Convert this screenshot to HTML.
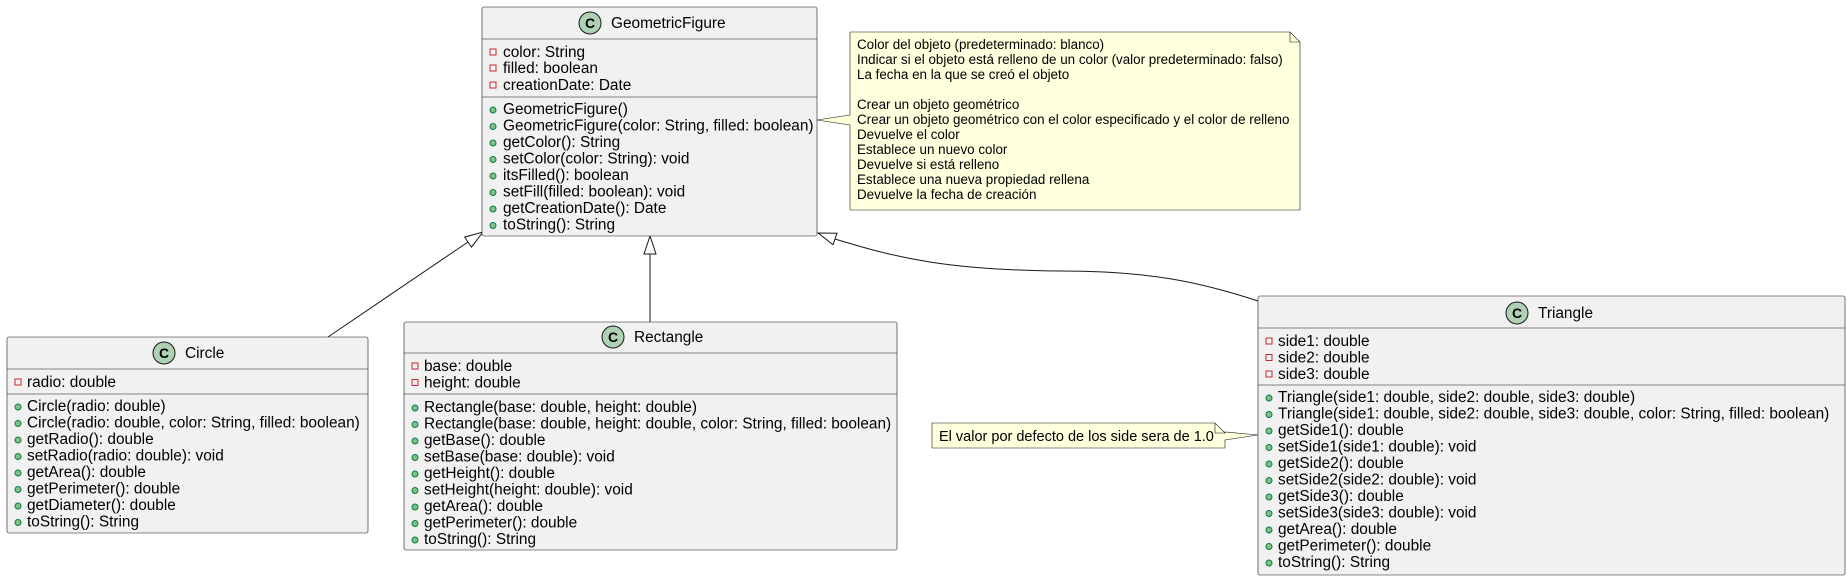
<!DOCTYPE html>
<html><head><meta charset="utf-8"><style>
html,body{margin:0;padding:0;background:#fff;}
svg{display:block;}
text{font-family:"Liberation Sans",sans-serif;fill:#000;}
.t{font-size:15.4px;}
.n{font-size:13.4px;}
.box{fill:#F1F1F1;stroke:#181818;stroke-width:0.6;}
.sep{stroke:#181818;stroke-width:0.6;}
.pr{fill:none;stroke:#C82930;stroke-width:1;}
.pu{fill:#84BE84;stroke:#038048;stroke-width:1;}
.ic{fill:#ADD1B2;stroke:#181818;stroke-width:1;}
.ct{font-size:14px;font-weight:bold;}
</style></head><body>
<svg width="1847" height="581" viewBox="0 0 1847 581" xmlns="http://www.w3.org/2000/svg">
<g stroke="#181818" stroke-width="1" fill="none">
<path d="M328,337 L468,242"/>
<path d="M650,322 L650,254"/>
<path d="M1258,301 C1200,282 1150,271 1060,271 C950,270 900,259 835,239"/>
</g>
<g stroke="#181818" stroke-width="1" fill="#fff">
<polygon points="483,232 471.5,247.1 464.7,237.1"/>
<polygon points="650,236 644,254 656,254"/>
<polygon points="818,233 833,244.7 837,233.3"/>
</g>

<rect class="box" x="482" y="7" width="335" height="229" rx="2"/>
<line class="sep" x1="482" y1="39" x2="817" y2="39"/>
<line class="sep" x1="482" y1="97" x2="817" y2="97"/>
<circle class="ic" cx="590" cy="23" r="11"/>
<text class="ct" x="590" y="28" text-anchor="middle">C</text>
<text class="t" x="611" y="28">GeometricFigure</text>
<g class="t">
<rect class="pr" x="490" y="49" width="6" height="6"/><text x="503" y="57">color: String</text>
<rect class="pr" x="490" y="65" width="6" height="6"/><text x="503" y="73">filled: boolean</text>
<rect class="pr" x="490" y="82" width="6" height="6"/><text x="503" y="90">creationDate: Date</text>
<circle class="pu" cx="493" cy="110" r="3"/><text x="503" y="114">GeometricFigure()</text>
<circle class="pu" cx="493" cy="126.5" r="3"/><text x="503" y="130.5">GeometricFigure(color: String, filled: boolean)</text>
<circle class="pu" cx="493" cy="143" r="3"/><text x="503" y="147">getColor(): String</text>
<circle class="pu" cx="493" cy="159.5" r="3"/><text x="503" y="163.5">setColor(color: String): void</text>
<circle class="pu" cx="493" cy="176" r="3"/><text x="503" y="180">itsFilled(): boolean</text>
<circle class="pu" cx="493" cy="192.5" r="3"/><text x="503" y="196.5">setFill(filled: boolean): void</text>
<circle class="pu" cx="493" cy="209" r="3"/><text x="503" y="213">getCreationDate(): Date</text>
<circle class="pu" cx="493" cy="225.5" r="3"/><text x="503" y="229.5">toString(): String</text>
</g>

<path d="M850,32 L1290,32 L1300,42 L1300,210 L850,210 L850,125 L817,120 L850,115 Z" fill="#FEFFDD" stroke="#181818" stroke-width="0.6"/>
<path d="M1290,32 L1290,42 L1300,42" fill="none" stroke="#181818" stroke-width="0.6"/>
<g class="n">
<text x="857" y="49">Color del objeto (predeterminado: blanco)</text>
<text x="857" y="64">Indicar si el objeto está relleno de un color (valor predeterminado: falso)</text>
<text x="857" y="79">La fecha en la que se creó el objeto</text>
<text x="857" y="109">Crear un objeto geométrico</text>
<text x="857" y="124">Crear un objeto geométrico con el color especificado y el color de relleno</text>
<text x="857" y="139">Devuelve el color</text>
<text x="857" y="154">Establece un nuevo color</text>
<text x="857" y="169">Devuelve si está relleno</text>
<text x="857" y="184">Establece una nueva propiedad rellena</text>
<text x="857" y="199">Devuelve la fecha de creación</text>
</g>

<rect class="box" x="7" y="337" width="361" height="196" rx="2"/>
<line class="sep" x1="7" y1="369" x2="368" y2="369"/>
<line class="sep" x1="7" y1="394" x2="368" y2="394"/>
<circle class="ic" cx="164" cy="353" r="11"/>
<text class="ct" x="164" y="358" text-anchor="middle">C</text>
<text class="t" x="185" y="358">Circle</text>
<g class="t">
<rect class="pr" x="15" y="379" width="6" height="6"/><text x="27" y="387">radio: double</text>
<circle class="pu" cx="18" cy="407" r="3"/><text x="27" y="411">Circle(radio: double)</text>
<circle class="pu" cx="18" cy="423.5" r="3"/><text x="27" y="427.5">Circle(radio: double, color: String, filled: boolean)</text>
<circle class="pu" cx="18" cy="440" r="3"/><text x="27" y="444">getRadio(): double</text>
<circle class="pu" cx="18" cy="456.5" r="3"/><text x="27" y="460.5">setRadio(radio: double): void</text>
<circle class="pu" cx="18" cy="473" r="3"/><text x="27" y="477">getArea(): double</text>
<circle class="pu" cx="18" cy="489.5" r="3"/><text x="27" y="493.5">getPerimeter(): double</text>
<circle class="pu" cx="18" cy="506" r="3"/><text x="27" y="510">getDiameter(): double</text>
<circle class="pu" cx="18" cy="522.5" r="3"/><text x="27" y="526.5">toString(): String</text>
</g>

<rect class="box" x="404" y="322" width="493" height="228" rx="2"/>
<line class="sep" x1="404" y1="353" x2="897" y2="353"/>
<line class="sep" x1="404" y1="394" x2="897" y2="394"/>
<circle class="ic" cx="613" cy="337" r="11"/>
<text class="ct" x="613" y="342" text-anchor="middle">C</text>
<text class="t" x="634" y="342">Rectangle</text>
<g class="t">
<rect class="pr" x="412" y="363" width="6" height="6"/><text x="424" y="371">base: double</text>
<rect class="pr" x="412" y="379.5" width="6" height="6"/><text x="424" y="387.5">height: double</text>
<circle class="pu" cx="415" cy="408" r="3"/><text x="424" y="412">Rectangle(base: double, height: double)</text>
<circle class="pu" cx="415" cy="424.5" r="3"/><text x="424" y="428.5">Rectangle(base: double, height: double, color: String, filled: boolean)</text>
<circle class="pu" cx="415" cy="441" r="3"/><text x="424" y="445">getBase(): double</text>
<circle class="pu" cx="415" cy="457.5" r="3"/><text x="424" y="461.5">setBase(base: double): void</text>
<circle class="pu" cx="415" cy="474" r="3"/><text x="424" y="478">getHeight(): double</text>
<circle class="pu" cx="415" cy="490.5" r="3"/><text x="424" y="494.5">setHeight(height: double): void</text>
<circle class="pu" cx="415" cy="507" r="3"/><text x="424" y="511">getArea(): double</text>
<circle class="pu" cx="415" cy="523.5" r="3"/><text x="424" y="527.5">getPerimeter(): double</text>
<circle class="pu" cx="415" cy="540" r="3"/><text x="424" y="544">toString(): String</text>
</g>

<rect class="box" x="1258" y="296" width="587" height="279" rx="2"/>
<line class="sep" x1="1258" y1="328" x2="1845" y2="328"/>
<line class="sep" x1="1258" y1="385" x2="1845" y2="385"/>
<circle class="ic" cx="1517" cy="313" r="11"/>
<text class="ct" x="1517" y="318" text-anchor="middle">C</text>
<text class="t" x="1538" y="318">Triangle</text>
<g class="t">
<rect class="pr" x="1266" y="338" width="6" height="6"/><text x="1278" y="346">side1: double</text>
<rect class="pr" x="1266" y="354.5" width="6" height="6"/><text x="1278" y="362.5">side2: double</text>
<rect class="pr" x="1266" y="371" width="6" height="6"/><text x="1278" y="379">side3: double</text>
<circle class="pu" cx="1269" cy="398" r="3"/><text x="1278" y="402">Triangle(side1: double, side2: double, side3: double)</text>
<circle class="pu" cx="1269" cy="414.5" r="3"/><text x="1278" y="418.5">Triangle(side1: double, side2: double, side3: double, color: String, filled: boolean)</text>
<circle class="pu" cx="1269" cy="431" r="3"/><text x="1278" y="435">getSide1(): double</text>
<circle class="pu" cx="1269" cy="447.5" r="3"/><text x="1278" y="451.5">setSide1(side1: double): void</text>
<circle class="pu" cx="1269" cy="464" r="3"/><text x="1278" y="468">getSide2(): double</text>
<circle class="pu" cx="1269" cy="480.5" r="3"/><text x="1278" y="484.5">setSide2(side2: double): void</text>
<circle class="pu" cx="1269" cy="497" r="3"/><text x="1278" y="501">getSide3(): double</text>
<circle class="pu" cx="1269" cy="513.5" r="3"/><text x="1278" y="517.5">setSide3(side3: double): void</text>
<circle class="pu" cx="1269" cy="530" r="3"/><text x="1278" y="534">getArea(): double</text>
<circle class="pu" cx="1269" cy="546.5" r="3"/><text x="1278" y="550.5">getPerimeter(): double</text>
<circle class="pu" cx="1269" cy="563" r="3"/><text x="1278" y="567">toString(): String</text>
</g>

<path d="M932,423 L1215,423 L1225,433 L1225,432 L1258,435 L1225,440 L1225,448 L932,448 Z" fill="#FEFFDD" stroke="#181818" stroke-width="0.6"/>
<path d="M1215,423 L1215,433 L1225,433" fill="none" stroke="#181818" stroke-width="0.6"/>
<text x="939" y="441" style="font-size:14.5px">El valor por defecto de los side sera de 1.0</text>
</svg>
</body></html>
